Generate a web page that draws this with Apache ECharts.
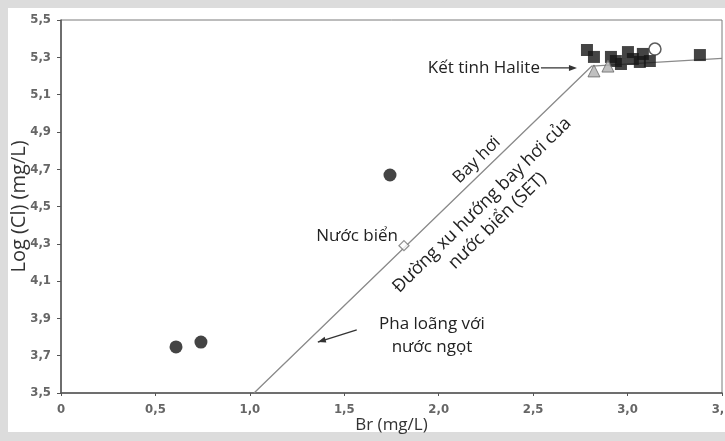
<!DOCTYPE html>
<html><head><meta charset="utf-8">
<script src="https://cdn.jsdelivr.net/npm/echarts@6/dist/echarts.min.js"></script>
<style>
html,body{margin:0;padding:0;}
#wrap{position:relative;width:725px;height:441px;background:#dcdcdc;overflow:hidden;}
#inner{position:absolute;left:8px;top:8px;width:717px;height:424px;background:#fff;}
#chart{position:absolute;left:0;top:0;width:725px;height:441px;}
</style></head>
<body>
<div id="wrap"><div id="inner"></div><div id="chart"></div></div>
<script>
// Data (Br mg/L, Log Cl mg/L)
const xTicks = [0, 0.5, 1.0, 1.5, 2.0, 2.5, 3.0, 3.5];
const yTicks = [3.5, 3.7, 3.9, 4.1, 4.3, 4.5, 4.7, 4.9, 5.1, 5.3, 5.5];
const freshPoints = [[0.609, 3.747], [0.741, 3.773], [1.742, 4.669]];
const seawater = [[1.816, 4.29]];
const halitePoints = [
  [2.785, 5.339], [2.822, 5.302], [2.912, 5.302], [2.938, 5.280],
  [3.002, 5.328], [3.028, 5.291], [3.081, 5.318], [3.065, 5.275],
  [3.118, 5.280], [2.965, 5.264], [3.383, 5.312]
];
const openCircle = [[3.145, 5.344]];
const trianglePoints = [[2.822, 5.227], [2.896, 5.253]];
const setLine = [[1.022, 3.5], [2.811, 5.253], [3.5, 5.294]];

const fmt = v => (v === 0 ? '0' : v.toFixed(1).replace('.', ','));
const labelFont = "'Liberation Sans Narrow','DejaVu Sans Condensed',Arial,sans-serif";
const textFont = "'Open Sans','Noto Sans',sans-serif";

const chart = echarts.init(document.getElementById('chart'), null, {renderer: 'canvas'});
const option = {
  animation: false,
  backgroundColor: 'transparent',
  grid: {left: 61, top: 20, right: 3, bottom: 48, show: true, borderColor: '#7a7a7a', borderWidth: 1,
         containLabel: false, outerBoundsMode: 'none'},
  xAxis: {
    type: 'value', min: 0, max: 3.5, interval: 0.5,
    name: 'Br (mg/L)', nameLocation: 'middle', nameGap: 24, nameMoveOverlap: false,
    nameTextStyle: {fontFamily: textFont, fontSize: 17, color: '#333'},
    axisLine: {show: true, lineStyle: {color: '#555', width: 1.5}},
    axisTick: {show: true, inside: false, length: 3, lineStyle: {color: '#555'}},
    axisLabel: {formatter: fmt, margin: 10, fontFamily: labelFont, fontSize: 13, color: '#666', fontWeight: 'bold', hideOverlap: false},
    splitLine: {show: false}
  },
  yAxis: {
    type: 'value', min: 3.5, max: 5.5, interval: 0.2,
    name: 'Log (Cl) (mg/L)', nameLocation: 'middle', nameGap: 32, nameMoveOverlap: false,
    nameTextStyle: {fontFamily: textFont, fontSize: 20, color: '#333'},
    axisLine: {show: true, lineStyle: {color: '#555', width: 1.5}},
    axisTick: {show: true, length: 4, lineStyle: {color: '#555'}},
    axisLabel: {formatter: fmt, margin: 10, fontFamily: labelFont, fontSize: 13, color: '#666', fontWeight: 'bold', hideOverlap: false},
    splitLine: {show: false}
  },
  series: [
    {type: 'line', data: setLine, symbol: 'none', lineStyle: {color: '#8a8a8a', width: 1.3}, z: 1},
    {type: 'scatter', data: freshPoints, symbol: 'circle', symbolSize: 13, itemStyle: {color: '#151515'}, z: 3},
    {type: 'scatter', data: halitePoints, symbol: 'rect', symbolSize: 12, itemStyle: {color: '#151515'}, z: 3},
    {type: 'scatter', data: openCircle, symbol: 'circle', symbolSize: 12, itemStyle: {color: '#fff', borderColor: '#333', borderWidth: 1.5}, z: 3},
    {type: 'scatter', data: trianglePoints, symbol: 'triangle', symbolSize: 12, itemStyle: {color: '#b0b0b0', borderColor: '#666', borderWidth: 1}, z: 4},
    {type: 'scatter', data: seawater, symbol: 'diamond', symbolSize: 10, itemStyle: {color: '#fff', borderColor: '#777', borderWidth: 1.3}, z: 4}
  ]
};
chart.setOption(option);

const P = (x, y) => chart.convertToPixel({gridIndex: 0}, [x, y]);
const ang = 44.4 * Math.PI / 180;
const halitePt = P(2.536, 5.243);
const arrowEnd = P(2.732, 5.243);
const bay = P(2.202, 4.749);
const setTxt = P(2.27, 4.465);
const nuoc = P(1.784, 4.342);
const pha = P(1.964, 3.806);
const phaArrowS = P(1.566, 3.838);
const phaArrowE = P(1.36, 3.773);
const txt = (pos, text, extra) => ({
  type: 'text', x: pos[0], y: pos[1], z: 10,
  style: Object.assign({text: text, fontFamily: textFont, fontSize: 17, fill: '#222', align: 'center', verticalAlign: 'middle'}, extra || {})
});
const arrowHead = (s, e, len, half) => {
  const dx = e[0]-s[0], dy = e[1]-s[1];
  const L = Math.hypot(dx, dy), ux = dx/L, uy = dy/L, nx = -uy, ny = ux;
  const b = [e[0]-ux*len, e[1]-uy*len];
  return [[e[0], e[1]], [b[0]+nx*half, b[1]+ny*half], [b[0]-nx*half, b[1]-ny*half]];
};
chart.setOption({
  graphic: [
    txt(halitePt, 'Kết tinh Halite', {align: 'right'}),
    {type: 'line', z: 10, shape: {x1: halitePt[0] + 1, y1: halitePt[1], x2: arrowEnd[0] - 4, y2: arrowEnd[1]}, style: {stroke: '#333', lineWidth: 1.3}},
    {type: 'polygon', z: 10, shape: {points: arrowHead([halitePt[0], halitePt[1]], arrowEnd, 8, 3)}, style: {fill: '#333'}},
    Object.assign(txt(bay, 'Bay hơi'), {rotation: ang}),
    Object.assign(txt(setTxt, 'Đường xu hướng bay hơi của\nnước biển (SET)', {fontSize: 18, lineHeight: 22}), {rotation: ang}),
    txt(nuoc, 'Nước biển', {align: 'right'}),
    txt(pha, 'Pha loãng với\nnước ngọt', {lineHeight: 23}),
    {type: 'line', z: 10, shape: {x1: phaArrowS[0], y1: phaArrowS[1], x2: phaArrowE[0], y2: phaArrowE[1]}, style: {stroke: '#333', lineWidth: 1.3}},
    {type: 'polygon', z: 10, shape: {points: arrowHead(phaArrowS, phaArrowE, 8, 3)}, style: {fill: '#333'}}
  ]
});
</script>
</body></html>
